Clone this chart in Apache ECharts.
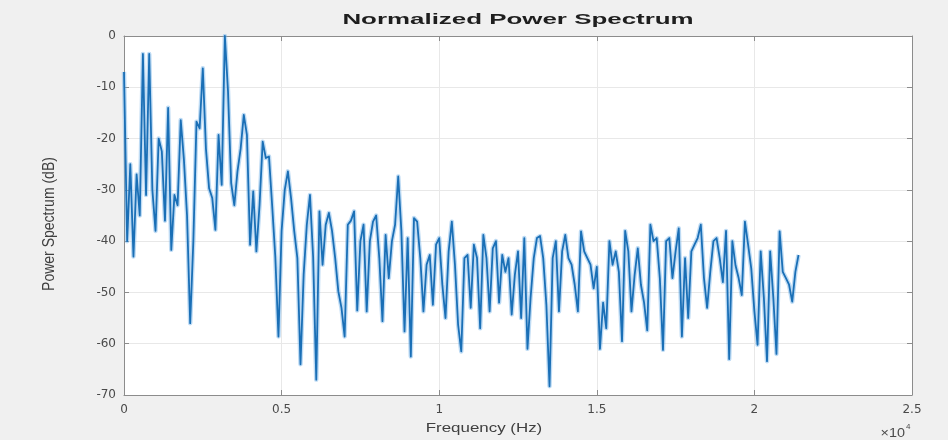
<!DOCTYPE html>
<html><head><meta charset="utf-8">
<script src="https://cdn.jsdelivr.net/npm/echarts@6/dist/echarts.min.js"></script>
<style>html,body{margin:0;padding:0;background:#f0f0f0}#chart{width:948px;height:440px}</style>
</head><body><div id="chart"></div>
<script>
const chartTitle = 'Normalized Power Spectrum';
const xAxisName = 'Frequency (Hz)';
const yAxisName = 'Power Spectrum (dB)';
const freqStepHz = 100;
const powerDb = [
 -7, -40, -25, -43, -27, -35, -3.5, -31, -3.5, -30,
 -38, -20, -22.5, -36, -14, -41.7, -31, -33, -16.4, -24,
 -35, -56, -40, -16.7, -18, -6.3, -22, -29.7, -31.6, -37.8,
 -19.3, -29, 0, -10.8, -28.7, -33, -26.4, -22, -15.4, -19.3,
 -40.7, -30.3, -42, -33, -20.6, -23.8, -23.5, -33, -43, -58.6,
 -38, -30, -26.4, -31.6, -38, -43.3, -64, -46.5, -36.8, -31,
 -43, -67, -34.2, -44.6, -36.8, -34.5, -38, -43.3, -49.8, -53,
 -58.6, -36.8, -36, -34.2, -53.5, -40, -36.8, -53.7, -40, -36.2,
 -35, -43.3, -55.6, -38.8, -47.2, -40, -36.8, -27.4, -38, -57.6,
 -39.4, -62.5, -35.5, -36.2, -43.3, -53.7, -44.6, -42.7, -52.4, -40.7,
 -39.4, -48.5, -55, -42, -36.2, -44.6, -56.3, -61.5, -43.3, -42.7,
 -53, -40.7, -43.3, -57, -38.8, -43.3, -53.7, -41.4, -40, -52,
 -42.7, -46, -43.3, -54.3, -46.6, -42, -55, -39.4, -61, -51,
 -43.3, -39.4, -39, -43.3, -52.4, -68.3, -43.3, -40, -53.7, -42,
 -38.8, -43.3, -44.6, -48.5, -53.7, -38.1, -42, -43.3, -44.6, -49.2,
 -45, -61, -52, -57, -40, -44.6, -42, -46, -59.5, -38,
 -42, -53.7, -46.6, -41.4, -48.5, -52, -57.4, -36.8, -40, -39.4,
 -47.2, -61.2, -40, -39.4, -47.2, -42, -37.5, -58.6, -43.3, -55,
 -42, -40.7, -39.4, -36.8, -47.2, -53, -46, -40, -39.4, -43.3,
 -48, -38, -63, -40, -44.7, -47.2, -50.5, -36.2, -40.7, -45.3,
 -53.7, -60.2, -42, -51, -63.4, -42, -51, -62, -38.1, -46,
 -47.2, -48.5, -51.8, -46, -42.7
];
const xMin = 0, xMax = 25000, xInterval = 5000, xScaleDiv = 10000;
const yMin = -70, yMax = 0, yInterval = 10;

const chart = echarts.init(document.getElementById('chart'), null, {renderer: 'canvas'});
const axisColor = '#8c8c8c';
const tickFont = {color: '#4a4a4a', fontFamily: 'DejaVu Sans', fontSize: 12};
const seriesData = powerDb.map((v, i) => [i * freqStepHz, v]);

chart.setOption({
  backgroundColor: '#f0f0f0',
  animation: false,
  grid: {left: 124, right: 36, top: 36, bottom: 45, show: true, backgroundColor: '#ffffff', borderWidth: 0},
  xAxis: [
    {type: 'value', min: xMin, max: xMax, interval: xInterval, position: 'bottom',
     axisLine: {show: true, onZero: false, lineStyle: {color: axisColor, width: 1}},
     axisTick: {show: true, inside: true, length: 5, lineStyle: {color: axisColor}},
     axisLabel: Object.assign({margin: 9, formatter: v => String(v / xScaleDiv)}, tickFont),
     splitLine: {show: true, lineStyle: {color: '#e8e8e8', width: 1}}},
    {type: 'value', min: xMin, max: xMax, interval: xInterval, position: 'top',
     axisLine: {show: true, onZero: false, lineStyle: {color: axisColor, width: 1}},
     axisTick: {show: true, inside: true, length: 5, lineStyle: {color: axisColor}},
     axisLabel: {show: false}, splitLine: {show: false}}
  ],
  yAxis: [
    {type: 'value', min: yMin, max: yMax, interval: yInterval, position: 'left',
     axisLine: {show: true, onZero: false, lineStyle: {color: axisColor, width: 1}},
     axisTick: {show: true, inside: true, length: 5, lineStyle: {color: axisColor}},
     axisLabel: Object.assign({margin: 8}, tickFont),
     splitLine: {show: true, lineStyle: {color: '#e8e8e8', width: 1}}},
    {type: 'value', min: yMin, max: yMax, interval: yInterval, position: 'right',
     axisLine: {show: true, onZero: false, lineStyle: {color: axisColor, width: 1}},
     axisTick: {show: true, inside: true, length: 5, lineStyle: {color: axisColor}},
     axisLabel: {show: false}, splitLine: {show: false}}
  ],
  series: [
    {type: 'line', name: 'halo', xAxisIndex: 0, yAxisIndex: 0, data: seriesData,
     showSymbol: false, symbol: 'none', silent: true,
     lineStyle: {color: 'rgba(110,175,230,0.45)', width: 4.5, join: 'round'},
     z: 2},
    {type: 'line', name: 'power', xAxisIndex: 0, yAxisIndex: 0, data: seriesData,
     showSymbol: false, symbol: 'none',
     lineStyle: {color: '#1a6fb6', width: 1.8, join: 'round'},
     z: 3}
  ],
  graphic: [
    {type: 'text', x: 518, y: 20, scaleX: 1.85,
     style: {text: chartTitle, font: 'bold 14px "Liberation Sans"', fill: '#1e1e1e', align: 'center', verticalAlign: 'middle'}},
    {type: 'text', x: 484, y: 428, scaleX: 1.3,
     style: {text: xAxisName, font: '13px "Liberation Sans"', fill: '#404040', align: 'center', verticalAlign: 'middle'}},
    {type: 'text', x: 50, y: 224, rotation: Math.PI / 2, scaleY: 1.15,
     style: {text: yAxisName, font: '14px "Liberation Sans"', fill: '#404040', align: 'center', verticalAlign: 'middle'}},
    {type: 'text', x: 905, y: 434, scaleX: 1.2,
     style: {text: '\u00d710', font: '12px "Liberation Sans"', fill: '#4a4a4a', align: 'right', verticalAlign: 'middle'}},
    {type: 'text', x: 906, y: 427,
     style: {text: '4', font: '8px "Liberation Sans"', fill: '#4a4a4a', align: 'left', verticalAlign: 'middle'}}
  ]
});
</script></body></html>
